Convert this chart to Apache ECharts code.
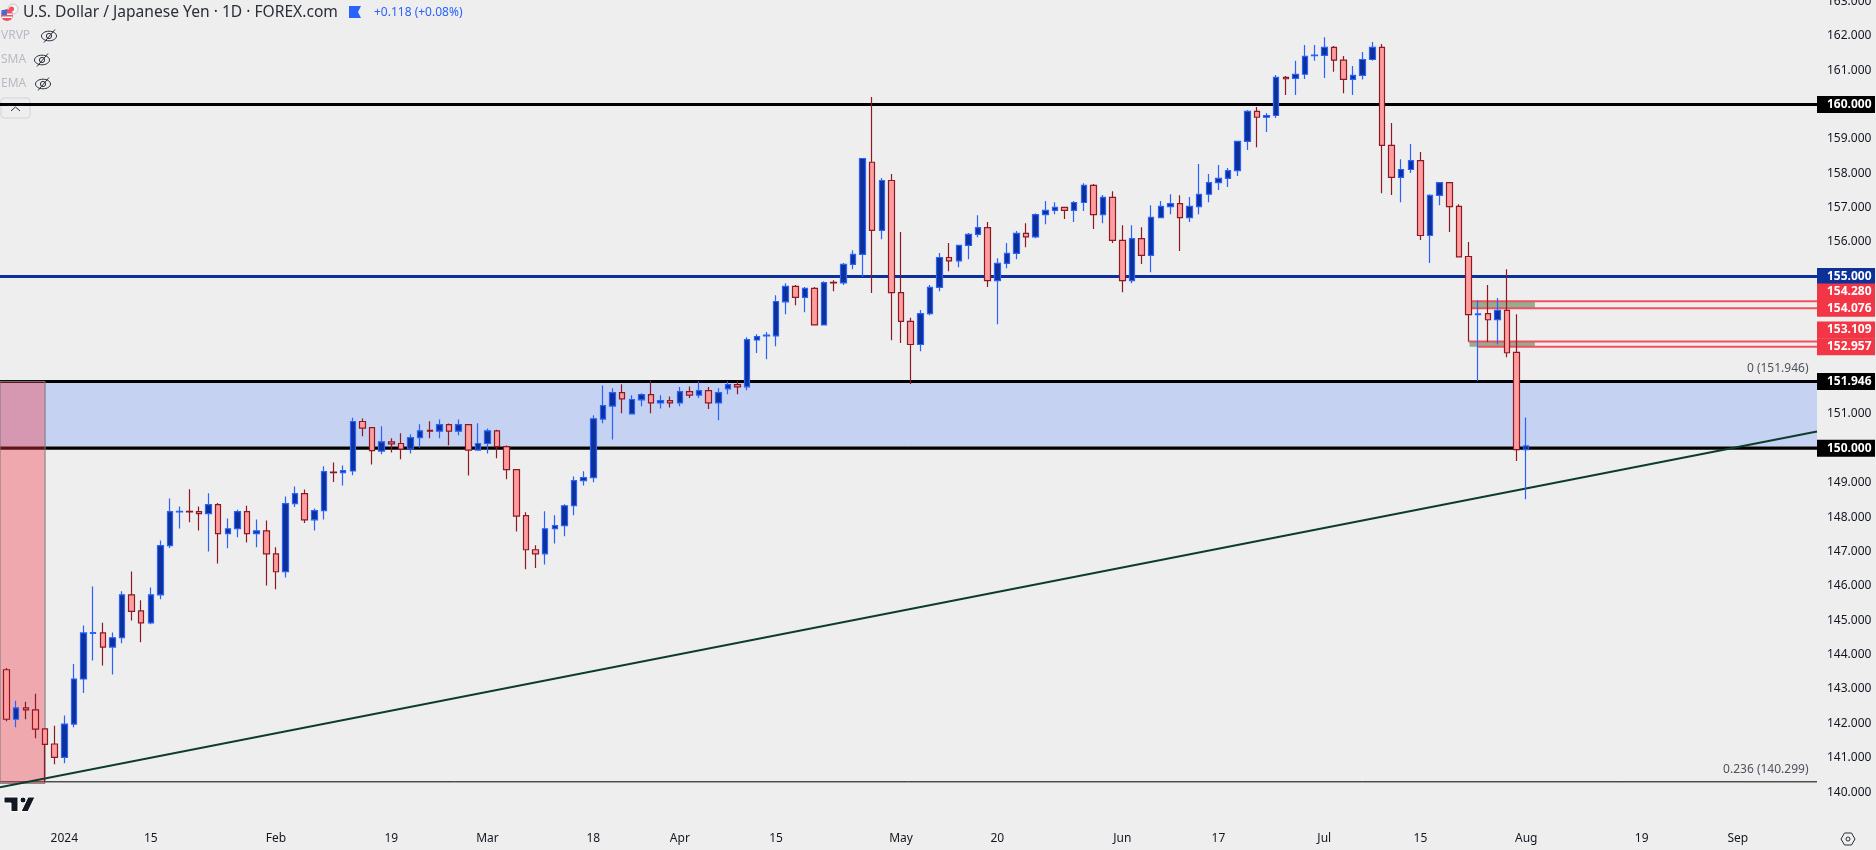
<!DOCTYPE html>
<html>

<head>
    <meta charset="utf-8">
    <title>U.S. Dollar / Japanese Yen</title>
    <script src="https://cdn.jsdelivr.net/npm/echarts@6/dist/echarts.min.js"></script>
    <style>
        html, body { margin: 0; padding: 0; background: #eeeeee; }
        #Chart { width: 1876px; height: 850px; }
    </style>
</head>

<body>
<div id="Chart"></div>
<script>
    // daily bars, index 0 is 2 Jan 2024
    var firstBar = -7;
    var opens = [143.83,143.56,142.12,142.45,142.39,141.84,141.40,141.01,141.98,143.29,144.62,144.63,144.22,144.49,145.74,145.27,144.92,145.74,147.17,148.15,148.17,148.16,148.10,148.36,147.52,147.66,148.16,147.52,147.60,146.93,146.41,148.39,148.68,147.92,148.19,149.31,149.29,149.34,150.78,150.60,149.92,150.19,150.14,149.98,150.31,150.52,150.50,150.69,150.50,150.69,149.95,150.14,150.51,150.05,149.38,148.04,147.05,146.93,147.66,147.75,148.33,149.06,149.15,150.85,151.23,151.62,151.00,151.41,151.56,151.32,151.39,151.32,151.65,151.55,151.68,151.32,151.73,151.85,151.79,153.15,153.27,153.27,154.26,154.71,154.39,154.65,153.59,154.83,154.81,155.35,155.64,158.32,156.34,157.79,154.53,153.69,153.02,153.92,154.68,155.55,155.45,155.90,156.22,156.42,154.88,155.38,155.67,156.25,156.15,156.80,156.92,157.01,156.92,157.15,157.65,156.80,157.30,156.05,154.88,156.10,155.61,156.71,157.03,157.12,156.71,157.03,157.39,157.73,157.85,158.08,158.93,159.80,159.63,159.68,160.79,160.76,160.88,161.42,161.43,161.66,161.29,160.73,160.85,161.31,161.66,158.81,157.88,158.11,158.37,156.19,157.36,157.73,157.04,155.58,153.89,153.92,153.74,154.01,152.79,149.96];
    var closes = [143.57,142.12,142.45,142.39,141.83,141.39,141.01,141.98,143.29,144.63,144.64,144.22,144.49,145.74,145.26,144.92,145.74,147.17,148.16,148.17,148.15,148.10,148.36,147.52,147.66,148.16,147.52,147.60,146.93,146.41,148.39,148.68,147.92,148.19,149.32,149.29,149.35,150.78,150.59,149.93,150.19,150.13,149.98,150.31,150.51,150.50,150.69,150.50,150.69,149.95,150.14,150.51,150.05,149.38,148.03,147.05,146.93,147.66,147.75,148.33,149.06,149.15,150.86,151.24,151.62,151.44,151.42,151.56,151.32,151.39,151.32,151.65,151.55,151.68,151.32,151.62,151.85,151.79,153.16,153.25,153.29,154.27,154.71,154.39,154.65,153.59,154.82,154.81,155.35,155.64,158.43,156.34,157.79,154.53,153.69,153.02,153.92,154.68,155.55,155.45,155.90,156.22,156.42,154.88,155.38,155.67,156.25,156.15,156.80,156.92,157.01,156.92,157.15,157.65,156.80,157.30,156.05,154.88,156.10,155.61,156.72,157.04,157.12,156.71,157.04,157.39,157.73,157.85,158.08,158.93,159.80,159.63,159.68,160.79,160.75,160.88,161.40,161.44,161.66,161.29,160.73,160.85,161.31,161.66,158.81,157.88,158.11,158.37,156.19,157.36,157.73,157.03,155.57,153.89,153.91,153.74,154.01,152.78,149.96,150.07];
    var lows = [143.50,142.06,141.89,142.12,141.57,140.29,140.81,140.84,141.89,142.88,143.83,143.68,143.42,144.33,144.99,144.36,144.88,145.61,147.10,147.67,147.85,147.61,147.00,146.65,147.09,147.41,147.26,147.12,146.01,145.90,146.24,148.29,147.83,147.61,147.93,149.02,148.92,149.22,150.35,149.53,149.83,149.88,149.68,149.85,150.02,150.29,150.29,150.09,150.38,149.21,149.95,149.85,149.71,149.10,147.58,146.48,146.52,146.62,147.23,147.44,148.05,148.92,149.01,150.73,150.26,151.02,150.99,151.22,151.02,151.16,151.19,151.22,151.46,151.46,151.14,150.82,151.57,151.57,151.69,152.77,152.59,152.97,153.90,154.16,153.96,153.59,153.59,154.57,154.75,155.21,154.98,154.52,156.08,153.14,153.06,151.87,152.82,153.87,154.57,155.15,155.27,155.50,156.14,154.69,153.61,155.24,155.50,155.85,156.11,156.52,156.81,156.67,156.58,156.90,156.38,156.55,155.97,154.54,154.80,155.36,155.12,156.71,156.81,155.74,156.58,156.81,157.16,157.51,157.60,157.92,158.68,158.76,159.20,159.61,160.28,160.28,160.74,161.27,160.77,160.95,160.33,160.28,160.73,161.27,157.42,157.37,157.16,158.01,156.06,155.39,157.07,156.29,155.57,153.11,151.96,153.09,153.03,152.65,149.63,148.52];
    var highs = [143.90,143.61,142.66,142.63,142.86,141.84,141.93,142.23,143.73,144.85,145.98,144.93,144.64,145.84,146.42,145.58,145.95,147.32,148.54,148.31,148.81,148.31,148.69,148.41,147.96,148.21,148.33,147.93,147.90,147.12,148.60,148.89,148.80,148.25,149.48,149.59,149.50,150.89,150.87,150.60,150.64,150.29,150.44,150.41,150.70,150.79,150.84,150.72,150.84,150.69,150.73,150.58,150.54,150.08,149.38,148.14,147.18,148.17,148.05,148.37,149.18,149.33,150.96,151.83,151.75,151.86,151.54,151.60,151.98,151.54,151.51,151.78,151.80,151.95,151.78,151.75,151.95,151.95,153.23,153.32,153.38,154.45,154.80,154.75,154.69,154.69,154.86,154.89,155.39,155.76,158.43,160.22,157.86,157.98,156.29,153.80,154.02,154.75,155.68,155.97,155.90,156.26,156.78,156.58,155.53,155.97,156.32,156.55,156.84,157.19,157.16,157.01,157.19,157.71,157.69,157.37,157.48,156.49,156.49,156.43,157.07,157.19,157.39,157.36,157.31,158.27,157.98,158.24,158.15,158.93,159.84,159.93,159.75,160.86,160.83,161.27,161.73,161.73,161.96,161.70,161.41,161.12,161.53,161.82,161.76,159.46,158.41,158.85,158.62,157.39,157.73,157.73,157.10,156.00,154.31,154.75,154.37,155.21,153.90,150.90];

    // axis
    var xMin = -6.685;
    var xMax = 182.23;
    var yMin = 139;
    var yMax = 163.04;
    var yTicks = [140,141,142,143,144,145,146,147,148,149,150,151,152,153,154,155,156,157,158,159,160,161,162,163];
    var xTicks = [0,9,22,34,44,55,64,74,87,97,110,120,131,141,152,164,174];
    var xTickLabels = ['2024','15','Feb','19','Mar','18','Apr','15','May','20','Jun','17','Jul','15','Aug','19','Sep'];

    // drawn levels
    var blackLevels = [160,151.946,150];
    var navyLevel = 155;
    var fibLowLevel = 140.299;
    var redLevels = [154.28,154.076,153.109,152.957];
    var redLevelStart = [146,146,146,147];
    var trendX = [-6.685,182.23];
    var trendY = [140.14,150.49];
    var fibValues = [151.946,140.299];
    var fibTexts = ['0 (151.946)','0.236 (140.299)'];
    var tagPrices = [160,155,154.28,154.076,153.109,152.957,151.946,150];
    var tagTexts = ['160.000','155.000','154.280','154.076','153.109','152.957','151.946','150.000'];

    var BG = '#eeeeee';
    var FONT = '"Noto Sans", sans-serif';
    var RED = '#f23645';
    var NAVY = '#0d3199';
    var tagColors = ['#000000',NAVY,RED,RED,RED,RED,'#000000','#000000'];
    var tagShift = [0,0,-9.2,0,-11.4,0,0,0];

    var rows = opens.map(function (o, i) {
        return [firstBar + i, o, closes[i], lows[i], highs[i]];
    });

    function levelLine(name, x0, x1, y, color, width, z) {
        return {
            type: 'line', name: name, data: [[x0, y], [x1, y]], z: z,
            showSymbol: false, silent: true, animation: false,
            lineStyle: { color: color, width: width }
        };
    }

    function zone(name, x0, x1, y0, y1, style, z) {
        return {
            type: 'custom', name: name, z: z, silent: true, animation: false,
            data: [[x0, x1, y0, y1]],
            encode: { x: [0, 1], y: [2, 3] },
            renderItem: function (params, api) {
                var a = api.coord([api.value(0), api.value(3)]);
                var b = api.coord([api.value(1), api.value(2)]);
                return { type: 'rect', shape: { x: a[0], y: a[1], width: b[0] - a[0], height: b[1] - a[1] }, style: style };
            }
        };
    }

    var series = [
        zone('band', xMin, xMax, 150, 151.946, { fill: '#c5d2f2' }, 1),
        zone('green high', 146, 152.9, 154.076, 154.28, { fill: '#93ad91' }, 1),
        zone('green low', 146.1, 152.9, 152.957, 153.109, { fill: '#93ad91' }, 1),
        levelLine('band edge', xMin, xMax, 150.05, '#8f8f8f', 1, 2),
        levelLine('fib low', xMin, xMax, fibLowLevel, '#000000', 1, 2),
        levelLine('155', xMin, xMax, navyLevel, NAVY, 3, 2)
    ];
    blackLevels.forEach(function (v) {
        series.push(levelLine(String(v), xMin, xMax, v, '#000000', 3, 2));
    });
    redLevels.forEach(function (v, i) {
        series.push(levelLine(String(v), redLevelStart[i], xMax, v, '#f0505f', 2, 2));
    });
    series.push(zone('december', xMin, -2, 140.256, 151.946, { fill: 'rgba(242,54,69,0.38)', stroke: '#787878', lineWidth: 1 }, 3));
    series.push({
        type: 'line', name: 'trend', z: 4, showSymbol: false, silent: true, animation: false,
        data: [[trendX[0], trendY[0]], [trendX[1], trendY[1]]],
        lineStyle: { color: '#0d3b2e', width: 2 }
    });
    series.push({
        type: 'candlestick', name: 'USDJPY', z: 5, silent: true, animation: false,
        data: rows, barWidth: 6,
        itemStyle: {
            color: NAVY, color0: '#ff9d9f',
            borderColor: '#2962ff', borderColor0: '#8b1a24', borderWidth: 1.2
        }
    });
    // fib captions, right aligned just above their lines
    series.push({
        type: 'custom', name: 'fib text', z: 6, silent: true, animation: false,
        data: fibValues.map(function (v, i) { return [xMax, v, i]; }),
        encode: { x: 0, y: 1 },
        renderItem: function (params, api) {
            var p = api.coord([api.value(0), api.value(1)]);
            return {
                type: 'text',
                style: {
                    x: p[0] - 8.5, y: p[1] - 12.7, text: fibTexts[api.value(2)], fill: '#50535e',
                    font: '12px ' + FONT, align: 'right', verticalAlign: 'middle'
                }
            };
        }
    });
    // price tags in the axis column
    series.push({
        type: 'custom', name: 'tags', z: 7, silent: true, animation: false,
        data: tagPrices.map(function (v, i) { return [xMax, v, i]; }),
        encode: { x: 0, y: 1 },
        renderItem: function (params, api) {
            var i = api.value(2);
            var p = api.coord([api.value(0), api.value(1)]);
            var cy = p[1] + tagShift[i];
            return {
                type: 'group',
                children: [
                    { type: 'rect', shape: { x: p[0], y: cy - 8.5, width: 58, height: 17 }, style: { fill: tagColors[i] } },
                    {
                        type: 'text',
                        style: {
                            x: p[0] + 10, y: cy, text: tagTexts[i], fill: '#ffffff',
                            font: 'bold 12px ' + FONT, align: 'left', verticalAlign: 'middle'
                        }
                    }
                ]
            };
        }
    });

    // small icons of the chart frame
    function eyeOff(cx, cy) {
        var line = { stroke: '#2a2e39', lineWidth: 1, fill: null };
        return {
            type: 'group', silent: true,
            children: [
                { type: 'ellipse', shape: { cx: cx, cy: cy, rx: 7.5, ry: 4.8 }, style: line },
                { type: 'circle', shape: { cx: cx, cy: cy, r: 2.6 }, style: line },
                { type: 'line', shape: { x1: cx - 5, y1: cy + 6.5, x2: cx + 6, y2: cy - 6.5 }, style: line }
            ]
        };
    }

    function label(x, y, text, color, size) {
        return {
            type: 'text', silent: true, x: x, y: y,
            style: { text: text, fill: color, font: size + 'px ' + FONT, verticalAlign: 'middle' }
        };
    }

    var graphics = [
        { type: 'circle', silent: true, shape: { cx: 13, cy: 9, r: 5 }, style: { fill: '#f5f5f5', stroke: '#c8c8c8', lineWidth: 1 } },
        { type: 'circle', silent: true, shape: { cx: 11.5, cy: 9, r: 2.5 }, style: { fill: '#f0505f' } },
        { type: 'circle', silent: true, shape: { cx: 7, cy: 15, r: 6 }, style: { fill: '#f0505f' } },
        { type: 'rect', silent: true, shape: { x: 1.5, y: 13.5, width: 11, height: 1.5 }, style: { fill: '#ffffff' } },
        { type: 'rect', silent: true, shape: { x: 2, y: 16.5, width: 10, height: 1.5 }, style: { fill: '#ffffff' } },
        { type: 'rect', silent: true, shape: { x: 1.5, y: 10, width: 5.5, height: 5 }, style: { fill: '#3d6fd8' } },
        label(23, 13, 'U.S. Dollar / Japanese Yen · 1D · FOREX.com', '#2a2e39', 15.6),
        { type: 'polygon', silent: true, shape: { points: [[349, 6], [361, 6], [358, 12], [361, 18], [349, 18]] }, style: { fill: '#2962ff' } },
        label(374, 13, '+0.118 (+0.08%)', '#2962ff', 12),
        label(1, 36, 'VRVP', '#b8bbc4', 12),
        label(1, 60, 'SMA', '#b8bbc4', 12),
        label(1, 84, 'EMA', '#b8bbc4', 12),
        eyeOff(49, 36), eyeOff(42, 60), eyeOff(43, 84),
        { type: 'rect', silent: true, shape: { x: 1, y: 98, width: 29, height: 20, r: 3 }, style: { fill: 'rgba(238,238,238,0.75)', stroke: '#d1d4dc', lineWidth: 1 } },
        { type: 'polyline', silent: true, shape: { points: [[11, 111], [15.5, 107], [20, 111]] }, style: { stroke: '#2a2e39', lineWidth: 1, fill: null } },
        { type: 'polygon', silent: true, shape: { points: [[4, 797], [18, 797], [18, 811.5], [11, 811.5], [11, 803], [4, 803]] }, style: { fill: '#131722', stroke: '#ffffff', lineWidth: 1 } },
        { type: 'circle', silent: true, shape: { cx: 23, cy: 800, r: 3 }, style: { fill: '#131722', stroke: '#ffffff', lineWidth: 1 } },
        { type: 'polygon', silent: true, shape: { points: [[21, 811.5], [28, 797], [35, 797], [28, 811.5]] }, style: { fill: '#131722', stroke: '#ffffff', lineWidth: 1 } },
        { type: 'polygon', silent: true, shape: { points: [[1841, 839], [1844.5, 833], [1851.5, 833], [1855, 839], [1851.5, 845], [1844.5, 845]] }, style: { stroke: '#2a2e39', lineWidth: 1, fill: null } },
        { type: 'circle', silent: true, shape: { cx: 1848, cy: 839, r: 2 }, style: { stroke: '#2a2e39', lineWidth: 1, fill: null } }
    ];

    var option = {
        backgroundColor: BG,
        animation: false,
        grid: { left: 0, top: 0, width: 1817, height: 826.5, containLabel: false, outerBoundsMode: 'none' },
        xAxis: {
            type: 'value', min: xMin, max: xMax, scale: true,
            axisLine: { show: false }, axisTick: { show: false }, splitLine: { show: false },
            axisLabel: {
                customValues: xTicks, margin: 6, color: '#131722', fontFamily: FONT, fontSize: 12,
                hideOverlap: false, showMinLabel: true, showMaxLabel: true,
                formatter: function (v) { return xTickLabels[xTicks.indexOf(v)] || ''; }
            }
        },
        yAxis: {
            type: 'value', position: 'right', min: yMin, max: yMax, scale: true,
            axisLine: { show: false }, axisTick: { show: false }, splitLine: { show: false },
            axisLabel: {
                customValues: yTicks, margin: 10, color: '#131722', fontFamily: FONT, fontSize: 12,
                align: 'left',
                formatter: function (v) { return v.toFixed(3); }
            }
        },
        series: series,
        graphic: graphics
    };

    var chart = echarts.init(document.getElementById('Chart'), null, { renderer: 'canvas' });
    chart.setOption(option);
</script>
</body>

</html>
